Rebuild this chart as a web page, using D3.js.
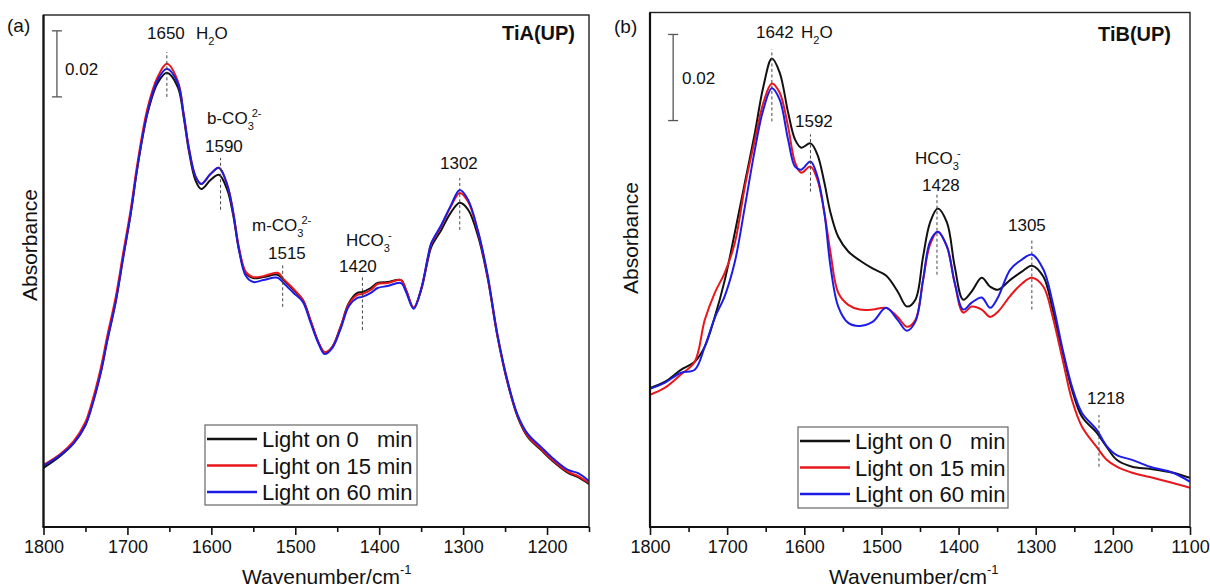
<!DOCTYPE html>
<html>
<head>
<meta charset="utf-8">
<script src="https://cdn.jsdelivr.net/npm/d3@7"></script>
<style>
  body { margin: 0; background: #fff; }
  text { font-family: "Liberation Sans", Arial, Helvetica, sans-serif; fill: #111; }
</style>
</head>
<body>
<script>
// ---------- data ----------
var seriesNames = ["Light on 0   min", "Light on 15 min", "Light on 60 min"];
var seriesColors = ["#111111", "#e8171b", "#1c1ce6"];

// panel (a) TiA(UP)
var wnA = [1800,1780,1764,1750,1744,1732,1724,1714,1705,1696,
           1688,1676,1664,1653,1640,1633,1627,1619,1612,1601,
           1591,1581,1574,1567,1559,1550,1538,1521,1514,1502,
           1491,1482,1472,1465,1456,1446,1436,1426,1420,1410,
           1402,1390,1374,1368,1359,1350,1342,1338,1326,1315,
           1304,1294,1282,1271,1259,1247,1235,1223,1207,1192,
           1175,1163,1150];
var tiA0 = [0.0170,0.0206,0.0245,0.0300,0.0345,0.0458,0.0558,0.0675,0.0810,0.0942,
            0.1082,0.1245,0.1336,0.1367,0.1324,0.1233,0.1133,0.1042,0.1015,0.1042,
            0.1058,0.1012,0.0936,0.0830,0.0761,0.0745,0.0748,0.0755,0.0739,0.0709,
            0.0679,0.0618,0.0548,0.0518,0.0536,0.0597,0.0670,0.0700,0.0703,0.0715,
            0.0730,0.0733,0.0739,0.0709,0.0655,0.0709,0.0800,0.0839,0.0891,0.0942,
            0.0973,0.0952,0.0870,0.0748,0.0567,0.0427,0.0324,0.0264,0.0224,0.0188,
            0.0155,0.0142,0.0121];
var tiA15 = [0.0179,0.0212,0.0251,0.0309,0.0354,0.0470,0.0570,0.0687,0.0822,0.0954,
             0.1094,0.1260,0.1354,0.1394,0.1342,0.1242,0.1142,0.1054,0.1030,0.1060,
             0.1079,0.1027,0.0945,0.0836,0.0764,0.0748,0.0751,0.0761,0.0742,0.0712,
             0.0679,0.0618,0.0548,0.0521,0.0536,0.0597,0.0667,0.0694,0.0697,0.0709,
             0.0727,0.0730,0.0739,0.0709,0.0655,0.0712,0.0806,0.0848,0.0903,0.0960,
             0.1003,0.0976,0.0882,0.0754,0.0570,0.0430,0.0327,0.0267,0.0227,0.0191,
             0.0158,0.0145,0.0124];
var tiA60 = [0.0176,0.0209,0.0245,0.0300,0.0342,0.0455,0.0555,0.0672,0.0807,0.0942,
             0.1082,0.1248,0.1345,0.1379,0.1336,0.1242,0.1142,0.1054,0.1030,0.1060,
             0.1079,0.1027,0.0945,0.0830,0.0752,0.0733,0.0739,0.0746,0.0730,0.0700,
             0.0673,0.0612,0.0545,0.0515,0.0533,0.0591,0.0661,0.0685,0.0688,0.0700,
             0.0715,0.0721,0.0730,0.0703,0.0652,0.0712,0.0809,0.0851,0.0906,0.0963,
             0.1012,0.0982,0.0885,0.0757,0.0573,0.0433,0.0330,0.0273,0.0233,0.0197,
             0.0164,0.0154,0.0130];

// panel (b) TiB(UP)
var wnB = [1800,1781,1760,1742,1729,1716,1703,1690,1677,1664,
           1653,1642,1632,1621,1612,1604,1592,1583,1574,1566,
           1556,1543,1528,1511,1494,1479,1467,1456,1446,1437,
           1427,1415,1405,1394,1383,1370,1359,1349,1333,1318,
           1305,1290,1278,1265,1253,1240,1221,1208,1195,1175,
           1152,1122,1100];
var tiB0 = [0.0316,0.0330,0.0358,0.0377,0.0412,0.0481,0.0567,0.0677,0.0793,0.0909,
            0.1016,0.1081,0.1049,0.0956,0.0893,0.0874,0.0884,0.0858,0.0793,0.0723,
            0.0667,0.0633,0.0612,0.0593,0.0577,0.0540,0.0505,0.0521,0.0621,0.0700,
            0.0733,0.0700,0.0598,0.0521,0.0540,0.0572,0.0551,0.0544,0.0567,0.0586,
            0.0600,0.0574,0.0498,0.0398,0.0312,0.0249,0.0212,0.0179,0.0149,0.0133,
            0.0128,0.0119,0.0107];
var tiB15 = [0.0300,0.0316,0.0347,0.0377,0.0474,0.0537,0.0584,0.0653,0.0784,0.0893,
             0.0979,0.1023,0.1002,0.0923,0.0840,0.0816,0.0830,0.0800,0.0723,0.0630,
             0.0537,0.0509,0.0498,0.0498,0.0502,0.0481,0.0458,0.0474,0.0567,0.0649,
             0.0679,0.0644,0.0560,0.0491,0.0505,0.0498,0.0481,0.0493,0.0530,0.0558,
             0.0572,0.0551,0.0481,0.0381,0.0288,0.0226,0.0179,0.0149,0.0133,0.0119,
             0.0109,0.0095,0.0084];
var tiB60 = [0.0314,0.0328,0.0351,0.0358,0.0412,0.0479,0.0530,0.0609,0.0737,0.0870,
             0.0963,0.1012,0.0986,0.0893,0.0830,0.0823,0.0842,0.0807,0.0723,0.0598,
             0.0505,0.0467,0.0460,0.0470,0.0502,0.0474,0.0449,0.0470,0.0567,0.0656,
             0.0679,0.0644,0.0560,0.0498,0.0514,0.0526,0.0502,0.0526,0.0591,0.0614,
             0.0626,0.0591,0.0514,0.0405,0.0319,0.0258,0.0219,0.0181,0.0160,0.0149,
             0.0133,0.0119,0.0098];

var ticksA = [1800,1700,1600,1500,1400,1300,1200];
var minorA = [1750,1650,1550,1450,1350,1250,1150];
var ticksB = [1800,1700,1600,1500,1400,1300,1200,1100];
var minorB = [1750,1650,1550,1450,1350,1250,1150];

// dashed guides: wavenumber and absorbance span
var guidesA = [[1653,0.1294,0.1430],[1589,0.0952,0.1109],[1515,0.0658,0.0791],[1420,0.0588,0.0755],[1304,0.0891,0.1048]];
var guidesB = [[1642,0.0935,0.1102],[1592,0.0772,0.0905],[1428,0.0579,0.0770],[1305,0.0498,0.0660],[1218,0.0133,0.0253]];

// ---------- layout ----------
var W = 1210, H = 587;
var svg = d3.select("body").append("svg").attr("width", W).attr("height", H);

// text pieces: [string, mode] mode: n normal, b subscript, p superscript (stacked over subscript)
var panels = [
  {
    id: "a", tag: "(a)", name: "TiA(UP)", wn: wnA, ys: [tiA0, tiA15, tiA60],
    xDomain: [1800, 1150], yDomain: [-0.0009, 0.1542],
    left: 43.5, right: 589, top: 15, bottom: 527,
    ticks: ticksA, minor: minorA, guides: guidesA,
    bar: [1784, 0.1294], barLabel: [65, 75],
    tagPos: [7, 32], namePos: [575, 40], titleX: 242, absPos: [37, 245],
    legend: {x: 205, y: 425, w: 212, h: 80},
    labels: [
      {x: 147, y: 39, parts: [["1650","n"]]},
      {x: 196, y: 39, parts: [["H","n"],["2","b"],["O","n"]]},
      {x: 207, y: 124, parts: [["b-CO","n"],["3","b"],["2-","p"]]},
      {x: 205, y: 152, parts: [["1590","n"]]},
      {x: 252, y: 231, parts: [["m-CO","n"],["3","b"],["2-","p"]]},
      {x: 268, y: 259, parts: [["1515","n"]]},
      {x: 346, y: 246, parts: [["HCO","n"],["3","b"],["-","p"]]},
      {x: 339, y: 272, parts: [["1420","n"]]},
      {x: 440, y: 169, parts: [["1302","n"]]}
    ]
  },
  {
    id: "b", tag: "(b)", name: "TiB(UP)", wn: wnB, ys: [tiB0, tiB15, tiB60],
    xDomain: [1800, 1100], yDomain: [-0.0007, 0.1188],
    left: 650, right: 1190, top: 12.5, bottom: 527,
    ticks: ticksB, minor: minorB, guides: guidesB,
    bar: [1770, 0.0937], barLabel: [682, 84],
    tagPos: [614, 33], namePos: [1171, 41], titleX: 829, absPos: [638, 238],
    legend: {x: 798, y: 427, w: 210, h: 81},
    labels: [
      {x: 756, y: 38, parts: [["1642","n"]]},
      {x: 801, y: 38, parts: [["H","n"],["2","b"],["O","n"]]},
      {x: 795, y: 127, parts: [["1592","n"]]},
      {x: 915, y: 164, parts: [["HCO","n"],["3","b"],["-","p"]]},
      {x: 922, y: 191, parts: [["1428","n"]]},
      {x: 1008, y: 231, parts: [["1305","n"]]},
      {x: 1087, y: 404, parts: [["1218","n"]]}
    ]
  }
];

function richText(sel, parts) {
  parts.forEach(function(p) {
    var t = sel.append("tspan").text(p[0]);
    if (p[1] === "b") t.attr("dy", 6).attr("font-size", 11);
    else if (p[1] === "p") t.attr("dx", -2).attr("dy", -13).attr("font-size", 11);
    else t.attr("dy", sel.node().__shift || 0);
    sel.node().__shift = p[1] === "b" ? -6 : (p[1] === "p" ? 7 : 0);
  });
}

panels.forEach(function(p) {
  var x = d3.scaleLinear().domain(p.xDomain).range([p.left, p.right]);
  var y = d3.scaleLinear().domain(p.yDomain).range([p.bottom, p.top]);
  var g = svg.append("g").attr("class", "panel-" + p.id);

  g.append("clipPath").attr("id", "clip-" + p.id)
    .append("rect").attr("x", p.left).attr("y", p.top)
    .attr("width", p.right - p.left).attr("height", p.bottom - p.top);

  // curves
  var line = d3.line()
    .x(function(d) { return x(d[0]); })
    .y(function(d) { return y(d[1]); })
    .curve(d3.curveCatmullRom.alpha(0.5));
  var curves = g.append("g").attr("clip-path", "url(#clip-" + p.id + ")");
  p.ys.forEach(function(vals, i) {
    var pts = p.wn.map(function(w, j) { return [w, vals[j]]; });
    curves.append("path").datum(pts)
      .attr("d", line).attr("fill", "none")
      .attr("stroke", seriesColors[i]).attr("stroke-width", 2)
      .attr("stroke-linejoin", "round");
  });

  // frame
  g.append("rect").attr("x", p.left).attr("y", p.top)
    .attr("width", p.right - p.left).attr("height", p.bottom - p.top)
    .attr("fill", "none").attr("stroke", "#222").attr("stroke-width", 1.4);
  g.append("line").attr("x1", p.left).attr("x2", p.left).attr("y1", p.top).attr("y2", p.bottom)
    .attr("stroke", "#111").attr("stroke-width", 2.2);

  // bottom axis
  var major = d3.axisBottom(x).tickValues(p.ticks).tickSize(8).tickSizeOuter(0).tickPadding(5)
    .tickFormat(d3.format("d"));
  var ax = g.append("g").attr("transform", "translate(0," + p.bottom + ")").call(major);
  ax.select(".domain").remove();
  ax.selectAll(".tick line").attr("stroke", "#111").attr("stroke-width", 1.6);
  ax.selectAll(".tick text").attr("font-size", 18).attr("fill", "#111")
    .attr("font-family", "Liberation Sans, Arial, sans-serif");
  var minor = d3.axisBottom(x).tickValues(p.minor).tickSize(5).tickSizeOuter(0).tickFormat("");
  var mx = g.append("g").attr("transform", "translate(0," + p.bottom + ")").call(minor);
  mx.select(".domain").remove();
  mx.selectAll(".tick line").attr("stroke", "#111").attr("stroke-width", 1.6);
  g.append("line").attr("x1", p.left - 1).attr("x2", p.right).attr("y1", p.bottom).attr("y2", p.bottom)
    .attr("stroke", "#111").attr("stroke-width", 2.2);

  // axis titles
  var xt = g.append("text").attr("x", p.titleX).attr("y", 584).attr("font-size", 21);
  xt.append("tspan").text("Wavenumber/cm");
  xt.append("tspan").text("-1").attr("font-size", 13).attr("dy", -10);
  g.append("text").attr("transform", "translate(" + p.absPos[0] + "," + p.absPos[1] + ") rotate(-90)")
    .attr("text-anchor", "middle").attr("font-size", 21).text("Absorbance");

  // panel tag and sample name
  g.append("text").attr("x", p.tagPos[0]).attr("y", p.tagPos[1]).attr("font-size", 19).text(p.tag);
  g.append("text").attr("x", p.namePos[0]).attr("y", p.namePos[1]).attr("text-anchor", "end")
    .attr("font-size", 20).attr("font-weight", "bold").text(p.name);

  // scale bar 0.02
  var bx = x(p.bar[0]), by0 = y(p.bar[1]), by1 = y(p.bar[1] + 0.02);
  var sb = g.append("g").attr("stroke", "#555").attr("stroke-width", 1.3);
  sb.append("line").attr("x1", bx).attr("x2", bx).attr("y1", by0).attr("y2", by1);
  sb.append("line").attr("x1", bx - 5).attr("x2", bx + 5).attr("y1", by0).attr("y2", by0);
  sb.append("line").attr("x1", bx - 5).attr("x2", bx + 5).attr("y1", by1).attr("y2", by1);
  g.append("text").attr("x", p.barLabel[0]).attr("y", p.barLabel[1]).attr("font-size", 17).text("0.02");

  // dashed guides
  g.selectAll("line.guide").data(p.guides).enter().append("line").attr("class", "guide")
    .attr("x1", function(d) { return x(d[0]); }).attr("x2", function(d) { return x(d[0]); })
    .attr("y1", function(d) { return y(d[1]); }).attr("y2", function(d) { return y(d[2]); })
    .attr("stroke", "#444").attr("stroke-width", 1).attr("stroke-dasharray", "3,2.5");

  // peak labels
  p.labels.forEach(function(l) {
    var t = g.append("text").attr("x", l.x).attr("y", l.y).attr("font-size", 17);
    richText(t, l.parts);
  });

  // legend
  var lg = g.append("g").attr("transform", "translate(" + p.legend.x + "," + p.legend.y + ")");
  lg.append("rect").attr("width", p.legend.w).attr("height", p.legend.h)
    .attr("fill", "#fff").attr("stroke", "#666").attr("stroke-width", 1.2);
  seriesNames.forEach(function(n, i) {
    var cy = 14 + i * 26.5;
    lg.append("line").attr("x1", 2).attr("x2", 52).attr("y1", cy).attr("y2", cy)
      .attr("stroke", seriesColors[i]).attr("stroke-width", 2.6);
    lg.append("text").attr("x", 57).attr("y", cy + 8).attr("font-size", 22)
      .style("white-space", "pre").text(n);
  });
});
</script>
</body>
</html>
